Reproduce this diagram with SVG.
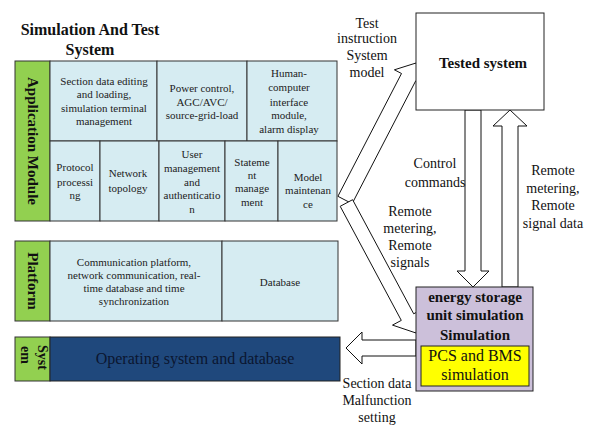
<svg xmlns="http://www.w3.org/2000/svg" width="598" height="425" viewBox="0 0 598 425">
<style>
text{font-family:"Liberation Serif","Times New Roman",serif;fill:#111;}
.c{font-size:11px;text-anchor:middle;fill:#222;}
.lbl{font-size:14px;text-anchor:middle;}
.b{font-weight:bold;}
.cell{fill:#d6ecf2;stroke:#333;stroke-width:1;}
.green{fill:#92d050;stroke:#333;stroke-width:1;}
.arrow{fill:#fff;stroke:#111;stroke-width:1;}
</style>
<rect width="598" height="425" fill="#fff"/>
<g id="title">
<text x="90" y="35" font-size="16" class="b" text-anchor="middle">Simulation And Test</text>
<text x="90" y="55" font-size="16" class="b" text-anchor="middle">System</text>
</g>
<g id="connectors">
<polygon class="arrow" points="337.9,196.3 401.5,73.5 394.4,69.8 416,63 422.8,84.6 415.7,80.9 352.1,203.7"/>
<polygon class="arrow" points="352.6,199.7 413.7,313.8 422.5,309.1 416,333 392.5,325.1 401.3,320.4 340.2,206.3"/>
<polygon class="arrow" points="465,110 481,110 481,271 489,271 473,287 457,271 465,271"/>
<polygon class="arrow" points="502,287 502,126 493,126 510,110 527,126 518,126 518,287"/>
<polygon class="arrow" points="416,340 362,340 362,332 346,348 362,364 362,356 416,356"/>
</g>
<g id="application-module">
<rect class="green" x="15" y="61" width="35" height="160"/>
<text class="b" font-size="15" text-anchor="middle" transform="translate(33,141) rotate(90)" y="5">Application Module</text>
</g>
<g id="section-data">
<rect class="cell" x="50" y="61" width="107" height="80"/>
<text class="c" x="104" y="85">Section data editing</text>
<text class="c" x="104" y="98">and loading,</text>
<text class="c" x="104" y="112">simulation terminal</text>
<text class="c" x="104" y="125">management</text>
</g>
<g id="power-control">
<rect class="cell" x="157" y="61" width="90" height="80"/>
<text class="c" x="202" y="92">Power control,</text>
<text class="c" x="202" y="106">AGC/AVC/</text>
<text class="c" x="202" y="119">source-grid-load</text>
</g>
<g id="hci">
<rect class="cell" x="247" y="61" width="90" height="80"/>
<text class="c" x="289" y="77">Human-</text>
<text class="c" x="289" y="91">computer</text>
<text class="c" x="289" y="106">interface</text>
<text class="c" x="289" y="119">module,</text>
<text class="c" x="289" y="133">alarm display</text>
</g>
<g id="protocol">
<rect class="cell" x="50" y="141" width="50" height="80"/>
<text class="c" x="75" y="171">Protocol</text>
<text class="c" x="75" y="186">processi</text>
<text class="c" x="75" y="199">ng</text>
</g>
<g id="network-topology">
<rect class="cell" x="100" y="141" width="59" height="80"/>
<text class="c" x="128" y="177">Network</text>
<text class="c" x="128" y="192">topology</text>
</g>
<g id="user-management">
<rect class="cell" x="159" y="141" width="66" height="80"/>
<text class="c" x="192" y="158">User</text>
<text class="c" x="192" y="172">management</text>
<text class="c" x="192" y="186">and</text>
<text class="c" x="192" y="199">authenticatio</text>
<text class="c" x="192" y="213">n</text>
</g>
<g id="statement">
<rect class="cell" x="225" y="141" width="53" height="80"/>
<text class="c" x="252" y="166">Stateme</text>
<text class="c" x="252" y="179">nt</text>
<text class="c" x="252" y="192">manage</text>
<text class="c" x="252" y="206">ment</text>
</g>
<g id="model-maintenance">
<rect class="cell" x="278" y="141" width="59" height="80"/>
<text class="c" x="308" y="181">Model</text>
<text class="c" x="308" y="194">maintenan</text>
<text class="c" x="308" y="208">ce</text>
</g>
<g id="platform">
<rect class="green" x="15" y="241" width="35" height="80"/>
<text class="b" font-size="15" text-anchor="middle" transform="translate(33,281) rotate(90)" y="5">Platform</text>
</g>
<g id="communication-platform">
<rect class="cell" x="50" y="241" width="172" height="80"/>
<text class="c" x="134" y="266">Communication platform,</text>
<text class="c" x="134" y="279">network communication, real-</text>
<text class="c" x="134" y="292">time database and time</text>
<text class="c" x="134" y="305">synchronization</text>
</g>
<g id="database">
<rect class="cell" x="222" y="241" width="116" height="80"/>
<text class="c" x="280" y="286">Database</text>
</g>
<g id="system">
<rect class="green" x="15" y="337" width="35" height="44"/>
<text class="b" font-size="14" transform="translate(43,345) rotate(90)" y="5">Syst</text>
<text class="b" font-size="14" transform="translate(26,346) rotate(90)" y="5">em</text>
</g>
<g id="operating-system">
<rect x="50" y="337" width="290" height="44" fill="#1f487c" stroke="#222" stroke-width="1"/>
<text x="195" y="364" font-size="16" text-anchor="middle" style="fill:#0b1630">Operating system and database</text>
</g>
<g id="tested-system">
<rect x="416" y="13" width="128" height="97" fill="#fff" stroke="#222" stroke-width="1"/>
<text x="483" y="68" font-size="15" class="b" text-anchor="middle">Tested system</text>
</g>
<g id="energy-storage">
<rect x="416" y="287" width="117" height="104" fill="#ccc0da" stroke="#222" stroke-width="1"/>
<text x="475" y="302" font-size="15" class="b" text-anchor="middle">energy storage</text>
<text x="475" y="320" font-size="15" class="b" text-anchor="middle">unit simulation</text>
<text x="475" y="340" font-size="15" class="b" text-anchor="middle">Simulation</text>
</g>
<g id="pcs-bms">
<rect x="421" y="346" width="108" height="40" fill="#ffff00" stroke="#222" stroke-width="1"/>
<text x="475" y="361" font-size="16" text-anchor="middle">PCS and BMS</text>
<text x="475" y="380" font-size="16" text-anchor="middle">simulation</text>
</g>
<g id="labels">
<text class="lbl" x="367" y="28">Test</text>
<text class="lbl" x="367" y="43">instruction</text>
<text class="lbl" x="367" y="60">System</text>
<text class="lbl" x="367" y="77">model</text>
<text class="lbl" x="435" y="168">Control</text>
<text class="lbl" x="435" y="187">commands</text>
<text class="lbl" x="553" y="175">Remote</text>
<text class="lbl" x="553" y="193">metering,</text>
<text class="lbl" x="553" y="210">Remote</text>
<text class="lbl" x="553" y="228">signal data</text>
<text class="lbl" x="410" y="216">Remote</text>
<text class="lbl" x="410" y="233">metering,</text>
<text class="lbl" x="410" y="250">Remote</text>
<text class="lbl" x="410" y="267">signals</text>
<text class="lbl" x="377" y="388">Section data</text>
<text class="lbl" x="377" y="405">Malfunction</text>
<text class="lbl" x="377" y="422">setting</text>
</g>
</svg>
